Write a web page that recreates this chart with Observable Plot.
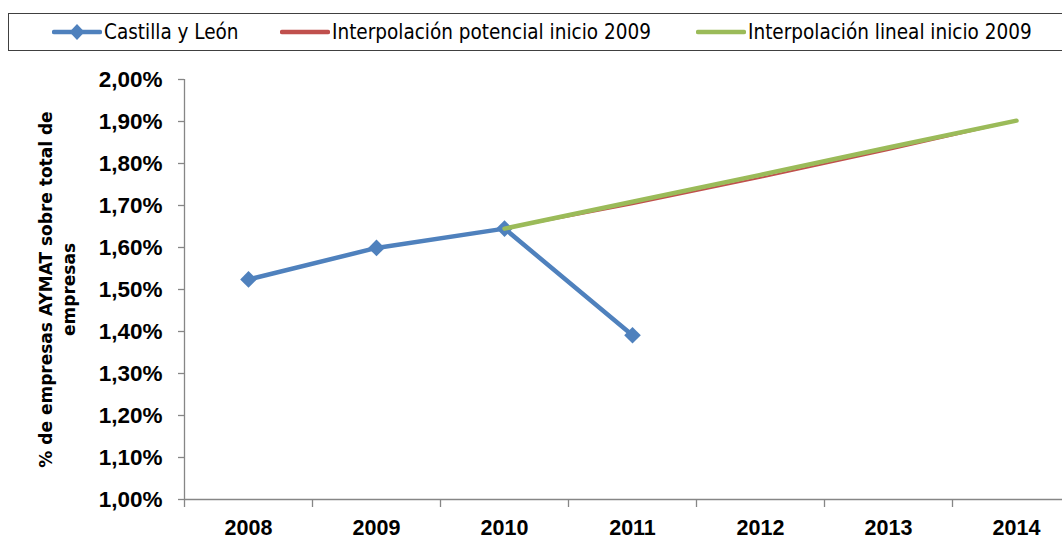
<!DOCTYPE html>
<html><head><meta charset="utf-8">
<script src="https://cdn.jsdelivr.net/npm/d3@7"></script>
<script src="https://cdn.jsdelivr.net/npm/@observablehq/plot@0.6"></script>
<style>
body{margin:0;background:#fff;width:1062px;height:540px;overflow:hidden}
#legend{position:relative;height:51px;font-family:"DejaVu Sans Condensed","DejaVu Sans";font-stretch:condensed;font-size:20.5px;color:#000}
#legend .box{position:absolute;left:8px;top:13px;width:1100px;height:36px;border:1px solid #404040}
#legend .item{position:absolute;top:14px;height:36px;display:flex;align-items:center;white-space:nowrap}
#legend svg{display:block}
#chart svg{display:block}
</style></head><body>
<div id="legend"><div class="box"></div></div>
<div id="chart"></div>
<script>
// ---- data ----
const years = [2008, 2009, 2010, 2011];
const castillaLeon = [1.524, 1.599, 1.645, 1.391];
const interpYears = [2010, 2011, 2012, 2013, 2014];
const potencial = [1.645, 1.703, 1.766, 1.832, 1.902];
const lineal = [1.645, 1.709, 1.773, 1.838, 1.902];
const yTicks = [1.0, 1.1, 1.2, 1.3, 1.4, 1.5, 1.6, 1.7, 1.8, 1.9, 2.0];
const xLabels = [2008, 2009, 2010, 2011, 2012, 2013, 2014];
const xBoundaries = [2007.5, 2008.5, 2009.5, 2010.5, 2011.5, 2012.5, 2013.5, 2014.5];
const seriesNames = ["Castilla y León", "Interpolación potencial inicio 2009", "Interpolación lineal inicio 2009"];
const seriesColors = ["#4F81BD", "#C0504D", "#9BBB59"];
const yTitle = "% de empresas AYMAT sobre total de\nempresas";

// ---- legend ----
const legendLefts = [52, 280, 696];
const legend = document.getElementById("legend");
seriesNames.forEach((name, i) => {
  const item = document.createElement("div");
  item.className = "item";
  item.style.left = legendLefts[i] + "px";
  const w = 50;
  let svg = `<svg width="${w}" height="18" viewBox="0 0 ${w} 18"><line x1="2" y1="9" x2="${w-2}" y2="9" stroke="${seriesColors[i]}" stroke-width="4.5" stroke-linecap="round"/>`;
  if (i === 0) svg += `<path d="M${w/2},1 L${w/2+7.5},9 L${w/2},17 L${w/2-7.5},9Z" fill="${seriesColors[i]}"/>`;
  svg += `</svg>`;
  item.innerHTML = svg + `<span style="margin-left:2px">${name}</span>`;
  legend.appendChild(item);
});

// ---- chart ----
const fmt = d => d.toFixed(2).replace(".", ",") + "%";
const cyl = years.map((y, i) => ({year: y, value: castillaLeon[i]}));
const pot = interpYears.map((y, i) => ({year: y, value: potencial[i]}));
const lin = interpYears.map((y, i) => ({year: y, value: lineal[i]}));

const chart = Plot.plot({
  width: 1062, height: 489,
  marginTop: 28, marginBottom: 41, marginLeft: 184, marginRight: 0,
  x: {type: "linear", domain: [2007.5, 2014.5], range: [184, 1080]},
  y: {domain: [1.0, 2.0]},
  style: {fontFamily: "Liberation Sans", background: "white", overflow: "visible"},
  marks: [
    Plot.ruleY([1.0], {stroke: "#868686", strokeWidth: 1.3}),
    Plot.ruleX([2007.5], {stroke: "#868686", strokeWidth: 1.3}),
    Plot.axisY({ticks: yTicks, tickSize: 6, tickFormat: () => "", stroke: "#868686", strokeWidth: 1.3, label: null}),
    Plot.axisY({ticks: yTicks, tickSize: 0, tickPadding: 22, tickFormat: fmt, fontSize: 22.5, fontWeight: "bold", fill: "#000", label: null}),
    Plot.axisX({ticks: xBoundaries, tickSize: 8, tickFormat: () => "", stroke: "#868686", strokeWidth: 1.3, label: null}),
    Plot.axisX({ticks: xLabels, tickSize: 0, tickPadding: 20, tickFormat: d => String(d), fontSize: 21.5, fontWeight: "bold", fill: "#000", label: null}),
    Plot.text([yTitle], {frameAnchor: "left", dx: -128, rotate: -90, fontSize: 17, fontWeight: "bold", fontFamily: "DejaVu Sans", lineHeight: 1.36, textAnchor: "middle", fill: "#000"}),
    Plot.line(cyl, {x: "year", y: "value", stroke: seriesColors[0], strokeWidth: 4.5}),
    Plot.dot(cyl, {x: "year", y: "value", symbol: "diamond2", r: 7.5, fill: seriesColors[0], stroke: "none"}),
    Plot.line(pot, {x: "year", y: "value", stroke: seriesColors[1], strokeWidth: 2, curve: "monotone-x"}),
    Plot.line(lin, {x: "year", y: "value", stroke: seriesColors[2], strokeWidth: 4.5, strokeLinecap: "round"})
  ]
});
document.getElementById("chart").appendChild(chart);
</script>
</body></html>
